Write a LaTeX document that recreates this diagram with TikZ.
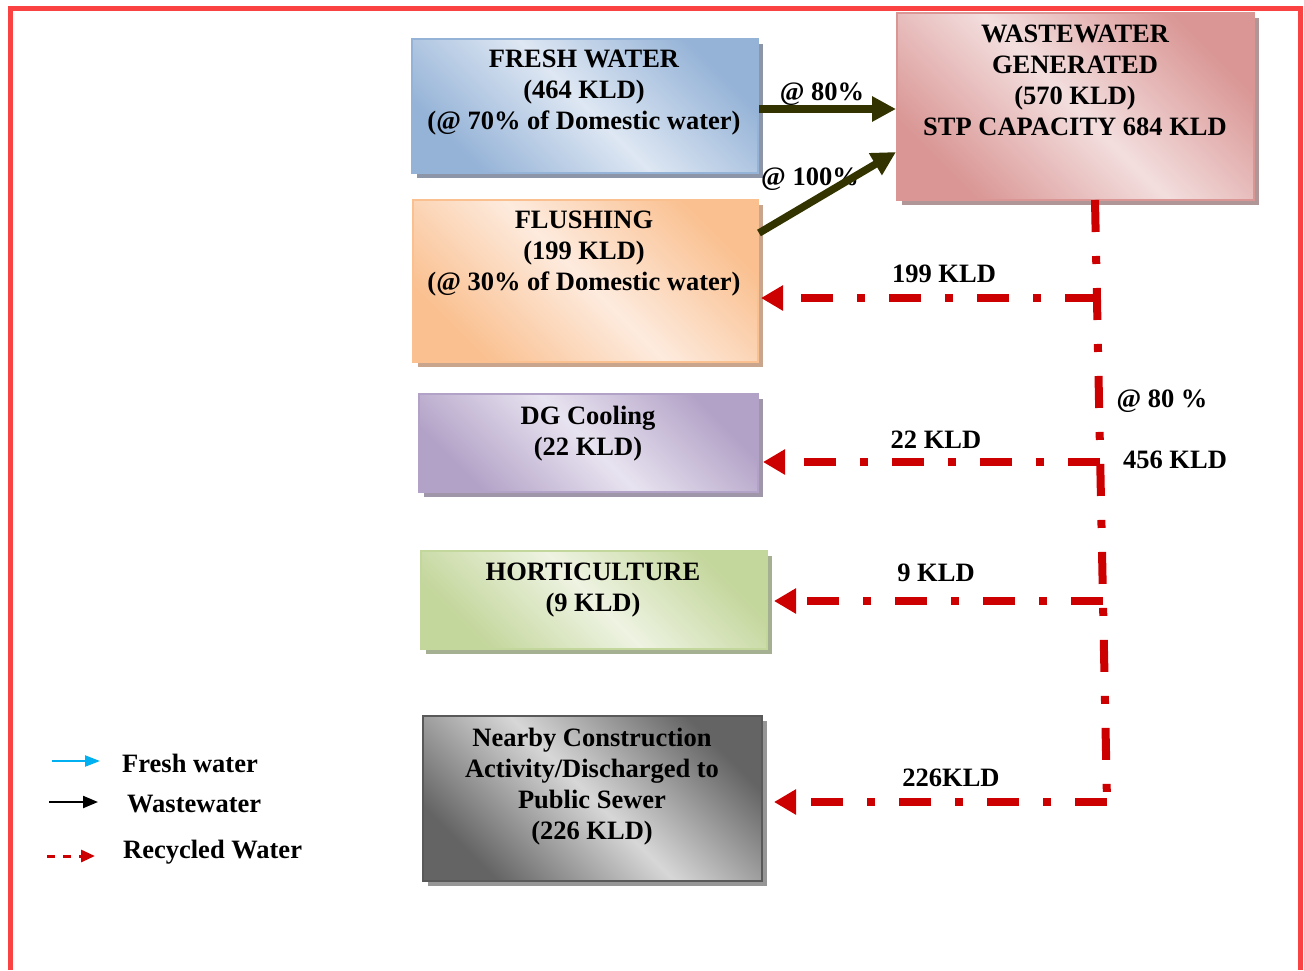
\documentclass[tikz,border=0pt]{standalone}
\usepackage{fontspec}
\setmainfont{Liberation Serif}
\usetikzlibrary{arrows.meta,shadows}

\definecolor{framered}{RGB}{250,66,66}
\definecolor{wwolive}{RGB}{51,51,0}
\definecolor{recyred}{RGB}{204,0,0}
\definecolor{freshblue}{RGB}{0,176,240}
% panel tones: edge (A), centre (B), shadow (S)
\definecolor{fwA}{RGB}{149,179,215}\definecolor{fwB}{RGB}{222,231,243}\definecolor{fwS}{RGB}{140,150,168}
\definecolor{wgA}{RGB}{217,150,148}\definecolor{wgB}{RGB}{243,222,222}\definecolor{wgS}{RGB}{176,150,150}
\definecolor{flA}{RGB}{250,192,144}\definecolor{flB}{RGB}{253,235,222}\definecolor{flS}{RGB}{200,165,140}
\definecolor{dgA}{RGB}{179,162,199}\definecolor{dgB}{RGB}{232,227,240}\definecolor{dgS}{RGB}{160,150,170}
\definecolor{hoA}{RGB}{195,214,155}\definecolor{hoB}{RGB}{238,243,226}\definecolor{hoS}{RGB}{165,175,145}
\definecolor{nbA}{RGB}{100,100,100}\definecolor{nbB}{RGB}{215,215,215}\definecolor{nbS}{RGB}{150,150,150}
\definecolor{nbE}{RGB}{89,89,89}

\begin{document}
\begin{tikzpicture}[x=1pt,y=-1pt,
  txt/.style={font=\bfseries\fontsize{26.5}{31}\selectfont, align=center, inner sep=0pt},
  tag/.style={font=\bfseries\fontsize{26.5}{31}\selectfont, inner sep=0pt, anchor=base},
  legtxt/.style={font=\bfseries\fontsize{26.5}{31}\selectfont, inner sep=0pt, anchor=base west},
  panel/.style n args={4}{draw=#3, line width=2pt, inner sep=0pt, anchor=north west,
     top color=#1, bottom color=#1, middle color=#2, shading angle=-45,
     drop shadow={fill=#4, opacity=1, shadow xshift=5pt, shadow yshift=-5pt}},
  wwarrow/.style={line width=7.5pt, draw=wwolive, -{Triangle[length=24pt,width=24pt]}},
  rline/.style={line width=8pt, draw=recyred, dash pattern=on 32pt off 24pt on 8pt off 24pt},
  rarrow/.style={rline, -{Triangle[length=22pt,width=24pt]}}
]
\useasboundingbox (0,0) rectangle (1304,970);

% outer frame (open at the bottom)
\draw[framered, line width=5pt, line join=miter] (10,970) -- (10,8) -- (1300,8) -- (1300,970);

% panels
\node[panel={fwA}{fwB}{fwA}{fwS}, minimum width=346pt, minimum height=134pt] (fw) at (411,38) {};
\node[panel={wgA}{wgB}{wgA}{wgS}, minimum width=357pt, minimum height=187pt] (wg) at (896,12) {};
\node[panel={flA}{flB}{flA}{flS}, minimum width=345pt, minimum height=162pt] (fl) at (412,199) {};
\node[panel={dgA}{dgB}{dgA}{dgS}, minimum width=339pt, minimum height=98pt] (dg) at (418,393) {};
\node[panel={hoA}{hoB}{hoA}{hoS}, minimum width=346pt, minimum height=98pt] (ho) at (420,550) {};
\node[panel={nbA}{nbB}{nbE}{nbS}, minimum width=339pt, minimum height=165pt] (nb) at (422,715) {};

% panel texts
\node[txt] (fwt) at (584,93) {FRESH WATER\\(464 KLD)\\(@ 70\% of Domestic water)};
\node[txt] (wgt) at (1075,80) {WASTEWATER\\GENERATED\\(570 KLD)\\STP CAPACITY 684 KLD};
\node[txt] (flt) at (584,254) {FLUSHING\\(199 KLD)\\(@ 30\% of Domestic water)};
\node[txt] (dgt) at (588,434) {DG Cooling\\(22 KLD)};
\node[txt] (hot) at (593,590) {HORTICULTURE\\(9 KLD)};
\node[txt] (nbt) at (592,787) {Nearby Construction\\Activity/Discharged to\\Public Sewer\\(226 KLD)};

% flow labels
\node[tag] (l80) at (822,100) {@ 80\%};
\node[tag] (l100) at (810,185) {@ 100\%};
\node[tag] (l199) at (944,282) {199 KLD};
\node[tag] (l22) at (936,448) {22 KLD};
\node[tag] (l9) at (936,581) {9 KLD};
\node[tag] (l226) at (951,786) {226KLD};
\node[tag] (lp80) at (1162,407) {@ 80 \%};
\node[tag] (l456) at (1175,468) {456 KLD};

% wastewater to the STP
\coordinate (k80) at (0,109);
\draw[wwarrow] (fw.east |- k80) -- (wg.west |- k80);
\draw[wwarrow] ([yshift=48pt]fl.east) -- ([yshift=-45.5pt]wg.west);

% recycled water distribution
\coordinate (vtop) at (1095,200);
\coordinate (j1) at (1097,298);
\coordinate (j2) at (1100,462);
\coordinate (j3) at (1103,601);
\coordinate (j4) at (1107,802);
\draw[rline] (vtop) -- (j4);
\draw[rarrow, shorten >=2pt] (j1) -- (fl.east |- j1);
\draw[rarrow, shorten >=4pt] (j2) -- (dg.east |- j2);
\draw[rarrow, shorten >=6pt] (j3) -- (ho.east |- j3);
\draw[rarrow, shorten >=11pt] (j4) -- (nb.east |- j4);

% legend
\coordinate (lfa) at (52,761);  \coordinate (lfb) at (100,761);
\coordinate (lwa) at (49,802);  \coordinate (lwb) at (98,802);
\coordinate (lra) at (47,856);  \coordinate (lrb) at (95,856);
\draw[freshblue, line width=2.2pt, -{Triangle[length=15pt,width=11pt]}] (lfa) -- (lfb);
\draw[black, line width=2.2pt, -{Triangle[length=15pt,width=12pt]}] (lwa) -- (lwb);
\draw[recyred, line width=3pt, dash pattern=on 8pt off 8pt, -{Triangle[length=14pt,width=12pt]}] (lra) -- (lrb);
\node[legtxt] (lgf) at (122,772) {Fresh water};
\node[legtxt] (lgw) at (127,812) {Wastewater};
\node[legtxt] (lgr) at (123,858) {Recycled Water};
\end{tikzpicture}
\end{document}
